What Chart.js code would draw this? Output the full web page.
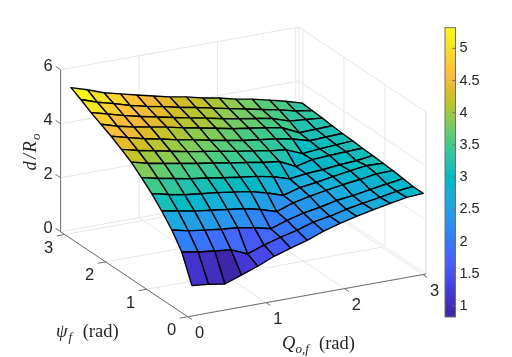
<!DOCTYPE html>
<html>
<head>
<meta charset="utf-8">
<style>
body { margin: 0; background: #fff; }
#surface { position: absolute; left: 0; top: 0; }
#bar { position: absolute; left: 440px; top: 15px; }
</style>
<script src="https://cdn.jsdelivr.net/npm/chart.js"></script>
</head>
<body>
<canvas id="surface" width="512" height="357"></canvas>
<canvas id="bar" width="72" height="315"></canvas>
<script>
const Qf = [0.08, 0.29, 0.50, 0.71, 0.92, 1.13, 1.34, 1.55, 1.76, 1.97, 2.18, 2.39, 2.61, 2.82, 3.03];
const psiF = [0.05, 0.30, 0.54, 0.79, 1.03, 1.28, 1.53, 1.77, 2.02, 2.27, 2.51, 2.76, 3.00];
// one row per psiF value, one column per Qf value
const dOverR = [
    [1.06, 1.00, 0.90, 1.12, 1.34, 1.60, 1.79, 1.97, 2.20, 2.38, 2.53, 2.66, 2.79, 2.90, 2.94],
    [2.06, 1.94, 1.87, 1.80, 1.54, 1.76, 1.94, 2.09, 2.28, 2.39, 2.54, 2.65, 2.76, 2.87, 2.94],
    [2.62, 2.48, 2.40, 2.32, 2.27, 2.16, 2.01, 2.21, 2.37, 2.48, 2.62, 2.69, 2.80, 2.90, 2.99],
    [3.08, 2.96, 2.85, 2.77, 2.69, 2.61, 2.47, 2.28, 2.50, 2.63, 2.74, 2.84, 2.92, 3.02, 3.03],
    [3.47, 3.33, 3.21, 3.14, 3.07, 2.98, 2.89, 2.73, 2.53, 2.71, 2.79, 2.90, 3.00, 3.08, 3.06],
    [3.81, 3.67, 3.56, 3.44, 3.36, 3.26, 3.17, 3.09, 2.97, 2.78, 2.86, 2.90, 2.97, 3.01, 3.09],
    [4.13, 3.98, 3.86, 3.75, 3.64, 3.55, 3.44, 3.35, 3.24, 3.17, 2.87, 3.02, 3.06, 3.09, 3.11],
    [4.36, 4.21, 4.09, 3.96, 3.84, 3.74, 3.63, 3.52, 3.43, 3.32, 3.25, 3.00, 3.06, 3.10, 3.14],
    [4.59, 4.43, 4.28, 4.16, 4.02, 3.91, 3.79, 3.67, 3.56, 3.48, 3.40, 3.29, 3.11, 3.14, 3.16],
    [4.78, 4.60, 4.46, 4.35, 4.24, 4.10, 3.99, 3.87, 3.74, 3.65, 3.56, 3.45, 3.15, 3.17, 3.19],
    [4.97, 4.81, 4.64, 4.50, 4.37, 4.24, 4.12, 4.00, 3.87, 3.76, 3.66, 3.55, 3.34, 3.29, 3.23],
    [5.20, 4.99, 4.83, 4.65, 4.51, 4.39, 4.25, 4.14, 4.01, 3.88, 3.76, 3.63, 3.50, 3.35, 3.26],
    [5.40, 5.21, 4.99, 4.84, 4.69, 4.54, 4.40, 4.29, 4.14, 4.03, 3.88, 3.77, 3.62, 3.47, 3.29]
];
const QTicks = [0, 1, 2, 3];
const psiTicks = [0, 1, 2, 3];
const dTicks = [0, 2, 4, 6];
const barTicks = [1, 1.5, 2, 2.5, 3, 3.5, 4, 4.5, 5];
const QMax = 3.04;
const psiMax = 3.1;
const dMax = 6;
const colorMin = 0.83;
const colorMax = 5.32;

// parula, 64 steps
const parula = [
    [.2422,.1504,.6603],[.2504,.1650,.7076],[.2578,.1818,.7511],[.2647,.1978,.7952],[.2706,.2147,.8364],[.2751,.2342,.8710],[.2783,.2559,.8991],[.2803,.2782,.9221],
    [.2813,.3006,.9414],[.2810,.3228,.9579],[.2795,.3447,.9717],[.2760,.3667,.9829],[.2699,.3892,.9906],[.2602,.4123,.9952],[.2440,.4358,.9988],[.2206,.4603,.9973],
    [.1963,.4847,.9892],[.1834,.5074,.9798],[.1786,.5289,.9682],[.1764,.5499,.9520],[.1687,.5703,.9359],[.1540,.5902,.9218],[.1460,.6091,.9079],[.1380,.6276,.8973],
    [.1248,.6459,.8883],[.1113,.6635,.8763],[.0952,.6798,.8598],[.0689,.6948,.8394],[.0297,.7082,.8163],[.0036,.7203,.7917],[.0067,.7312,.7660],[.0433,.7411,.7394],
    [.0964,.7500,.7120],[.1408,.7584,.6842],[.1717,.7670,.6554],[.1938,.7758,.6251],[.2161,.7843,.5923],[.2470,.7918,.5567],[.2906,.7973,.5188],[.3406,.8008,.4789],
    [.3909,.8029,.4354],[.4456,.8024,.3909],[.5044,.7993,.3480],[.5616,.7942,.3045],[.6174,.7876,.2612],[.6720,.7793,.2227],[.7242,.7698,.1910],[.7738,.7598,.1646],
    [.8203,.7498,.1535],[.8634,.7406,.1596],[.9035,.7330,.1774],[.9393,.7288,.2100],[.9728,.7298,.2394],[.9956,.7434,.2371],[.9970,.7659,.2199],[.9952,.7893,.2028],
    [.9892,.8136,.1885],[.9786,.8386,.1766],[.9676,.8639,.1643],[.9610,.8890,.1537],[.9597,.9135,.1423],[.9628,.9373,.1265],[.9691,.9606,.1064],[.9769,.9839,.0805]
];

const textColor = '#262626';
const axisColor = '#6e6e6e';
const gridColor = '#e6e6e6';

function paletteColor(k) {
    const c = parula[Math.max(0, Math.min(parula.length - 1, k))];
    return 'rgb(' + Math.round(c[0] * 255) + ',' + Math.round(c[1] * 255) + ',' + Math.round(c[2] * 255) + ')';
}

function levelColor(v) {
    return paletteColor(Math.floor((v - colorMin) / (colorMax - colorMin) * parula.length));
}

// 3D view: data coordinates to the flat plane of the two hidden chart scales
function project(q, p, d) {
    return {
        x: 187.7 + 78.4 * q - 41 * p,
        y: 316.7 - 14.05 * q - 27.4 * p - 27 * d
    };
}

function lineSet(points, color, width) {
    return {
        data: points.map(function(t) { return project(t[0], t[1], t[2]); }),
        showLine: true,
        fill: false,
        borderColor: color,
        borderWidth: width,
        pointRadius: 0
    };
}

const datasets = [];

// chart.js paints the first dataset last, so the front cells come first
psiF.slice(0, -1).forEach(function(p, i) {
    Qf.slice(0, -1).forEach(function(q, j) {
        const corners = [[i, j], [i, j + 1], [i + 1, j + 1], [i + 1, j], [i, j]];
        datasets.push({
            data: corners.map(function(c) { return project(Qf[c[1]], psiF[c[0]], dOverR[c[0]][c[1]]); }),
            showLine: true,
            fill: 'shape',
            backgroundColor: levelColor(dOverR[i][j]),
            borderColor: '#000',
            borderWidth: 1.4,
            borderJoinStyle: 'round',
            pointRadius: 0
        });
    });
});

// axis lines and tick marks
datasets.push(lineSet([[QMax, 0, 0], [0, 0, 0], [0, psiMax, 0]], axisColor, 1));
datasets.push(lineSet([[0, psiMax, 0], [0, psiMax, dMax]], axisColor, 1));
QTicks.forEach(function(q) { datasets.push(lineSet([[q, 0, 0], [q, -0.1, 0]], axisColor, 1)); });
psiTicks.forEach(function(p) { datasets.push(lineSet([[0, p, 0], [-0.1, p, 0]], axisColor, 1)); });
dTicks.forEach(function(d) { datasets.push(lineSet([[0, psiMax, d], [0, psiMax + 0.12, d]], axisColor, 1)); });

// walls and floor
QTicks.forEach(function(q) {
    datasets.push(lineSet([[q, 0, 0], [q, psiMax, 0], [q, psiMax, dMax]], gridColor, 1));
});
psiTicks.forEach(function(p) {
    datasets.push(lineSet([[0, p, 0], [QMax, p, 0], [QMax, p, dMax]], gridColor, 1));
});
dTicks.forEach(function(d) {
    datasets.push(lineSet([[0, psiMax, d], [QMax, psiMax, d], [QMax, 0, d]], gridColor, 1));
});
datasets.push(lineSet([[QMax, psiMax, 0], [QMax, psiMax, dMax]], gridColor, 1));
datasets.push(lineSet([[QMax, 0, 0], [QMax, 0, dMax]], gridColor, 1));

function mathText(ctx, parts) {
    // parts: [text, italic, subscript, offset from the origin]
    parts.forEach(function(t) {
        ctx.font = (t[1] ? 'italic ' : '') + (t[2] ? '13px' : '18.5px') + ' "Liberation Serif"';
        ctx.fillText(t[0], t[3], t[2] ? 4 : 0);
    });
}

const axisText = {
    id: 'axisText',
    afterDraw: function(chart) {
        const ctx = chart.ctx;
        const sx = chart.scales.x;
        const sy = chart.scales.y;
        function label(txt, pos, dx, dy) {
            ctx.fillText(txt, sx.getPixelForValue(pos.x) + dx, sy.getPixelForValue(pos.y) + dy);
        }
        ctx.save();
        ctx.fillStyle = textColor;
        ctx.font = '16.5px "Liberation Sans"';
        ctx.textAlign = 'center';
        ctx.textBaseline = 'middle';
        QTicks.forEach(function(q) { label(String(q), project(q, 0, 0), 11.8, 17.2); });
        psiTicks.forEach(function(p) { label(String(p), project(0, p, 0), -16, 13.8); });
        dTicks.forEach(function(d) { label(String(d), project(0, psiMax, d), -12.6, -3.5); });

        ctx.textAlign = 'left';
        ctx.textBaseline = 'alphabetic';
        ctx.save();
        ctx.translate(56, 337);
        mathText(ctx, [['ψ', true, false, 0], ['f', true, true, 12.5], ['(rad)', false, false, 26.7]]);
        ctx.restore();
        ctx.save();
        ctx.translate(282, 348.5);
        mathText(ctx, [['Q', true, false, 0], ['o,f', true, true, 13.5], ['(rad)', false, false, 37]]);
        ctx.restore();
        ctx.save();
        ctx.translate(35.5, 170.5);
        ctx.rotate(-Math.PI / 2);
        mathText(ctx, [['d', true, false, 0], ['/', true, false, 11.5], ['R', true, false, 18], ['o', true, true, 30.5]]);
        ctx.restore();
        ctx.restore();
    }
};

new Chart(document.getElementById('surface'), {
    type: 'scatter',
    data: { datasets: datasets },
    options: {
        responsive: false,
        animation: false,
        layout: { padding: 0 },
        elements: { line: { tension: 0 } },
        scales: {
            x: { type: 'linear', display: false, min: 0, max: 512 },
            y: { type: 'linear', display: false, min: 0, max: 357, reverse: true }
        },
        plugins: { legend: { display: false }, tooltip: { enabled: false } }
    },
    plugins: [axisText]
});

// colorbar: one floating bar per palette step, stacked on a single category
const barStep = (colorMax - colorMin) / parula.length;
const barSets = parula.map(function(c, k) {
    const lo = colorMin + barStep * k;
    return {
        data: [[lo, Math.min(colorMax, lo + barStep * 1.4)]],
        backgroundColor: paletteColor(k),
        borderWidth: 0,
        barPercentage: 1,
        categoryPercentage: 1
    };
});

const barFrame = {
    id: 'barFrame',
    afterDraw: function(chart) {
        const ctx = chart.ctx;
        const a = chart.chartArea;
        ctx.save();
        ctx.strokeStyle = axisColor;
        ctx.lineWidth = 1;
        ctx.strokeRect(a.left, a.top, a.right - a.left, a.bottom - a.top);
        barTicks.forEach(function(v) {
            const y = chart.scales.y.getPixelForValue(v);
            ctx.beginPath();
            ctx.moveTo(a.right - 3, y);
            ctx.lineTo(a.right, y);
            ctx.stroke();
        });
        ctx.restore();
    }
};

new Chart(document.getElementById('bar'), {
    type: 'bar',
    data: { labels: ['d/Ro'], datasets: barSets },
    options: {
        responsive: false,
        animation: false,
        layout: { padding: { left: 5, top: 11.5, bottom: 13, right: 0 } },
        scales: {
            x: { stacked: true, display: false },
            y: {
                stacked: false,
                position: 'right',
                min: colorMin,
                max: colorMax,
                afterBuildTicks: function(axis) {
                    axis.ticks = barTicks.map(function(v) { return { value: v }; });
                },
                afterFit: function(axis) { axis.width = 56.5; },
                grid: { display: false, drawTicks: false },
                border: { display: false },
                ticks: {
                    color: textColor,
                    padding: 4,
                    font: { family: '"Liberation Sans"', size: 14.5 },
                    callback: function(v) { return String(v); }
                }
            }
        },
        plugins: { legend: { display: false }, tooltip: { enabled: false } }
    },
    plugins: [barFrame]
});
</script>
</body>
</html>
